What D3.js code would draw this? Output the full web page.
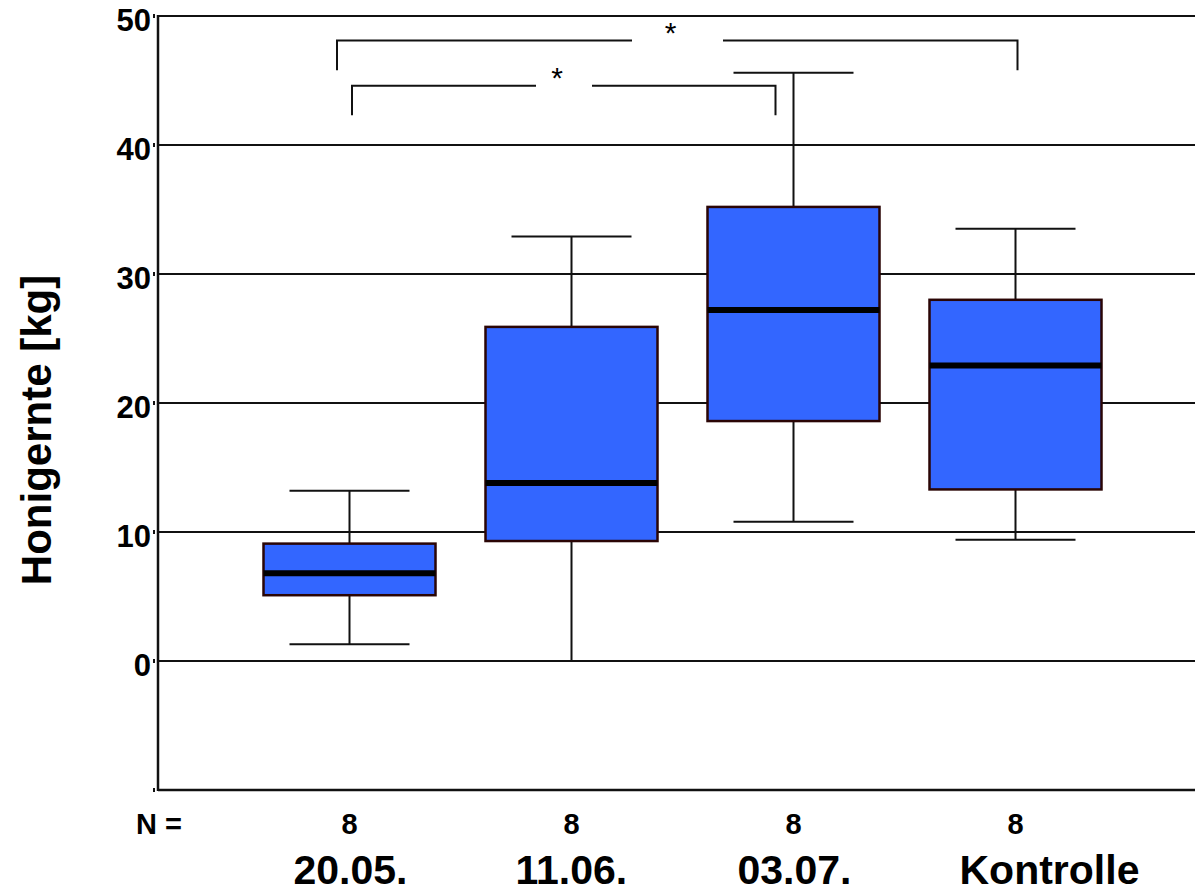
<!DOCTYPE html>
<html>
<head>
<meta charset="utf-8">
<script src="https://cdn.jsdelivr.net/npm/d3@7"></script>
<style>
  body { margin: 0; background: #fff; }
  text { font-family: Arial, "Liberation Sans", sans-serif; }
</style>
</head>
<body>
<div id="chart"></div>
<script>
// data
var categories = ["20.05.", "11.06.", "03.07.", "Kontrolle"];
var nValues = [8, 8, 8, 8];
var whiskerLow = [1.3, 0.0, 10.8, 9.4];
var q1 = [5.1, 9.3, 18.6, 13.3];
var medians = [6.8, 13.8, 27.2, 22.9];
var q3 = [9.1, 25.9, 35.2, 28.0];
var whiskerHigh = [13.2, 32.9, 45.6, 33.5];
var yTicks = [0, 10, 20, 30, 40, 50];

// significance brackets (from, to, top level, end level)
var brackets = [
    { from: "20.05.", to: "Kontrolle", level: 48.1, end: 45.8, label: "*" },
    { from: "20.05.", to: "03.07.", level: 44.6, end: 42.3, label: "*" }
];

function init(){
    var w = 1195;
    var h = 894;
    var left = 158, top = 16, bottom = 790;

    var svg = d3.select("#chart")
        .append("svg")
        .attr("width", w)
        .attr("height", h);

    var xScale = d3.scalePoint()
        .domain(categories)
        .range([349.5, 1015.5]);

    var yScale = d3.scaleLinear()
        .domain([-10, 50])
        .range([bottom, top]);

    var boxW = 172, capW = 120;

    // grid lines
    svg.selectAll(".grid")
        .data(yTicks)
        .enter().append("line")
        .attr("x1", left)
        .attr("x2", w)
        .attr("y1", function(d) { return yScale(d); })
        .attr("y2", function(d) { return yScale(d); })
        .attr("stroke", "#111")
        .attr("stroke-width", 2);

    // bottom axis line
    svg.append("line")
        .attr("x1", left).attr("x2", w)
        .attr("y1", bottom).attr("y2", bottom)
        .attr("stroke", "#111").attr("stroke-width", 2.5);

    // left axis line
    svg.append("line")
        .attr("x1", left).attr("x2", left)
        .attr("y1", top - 1).attr("y2", bottom + 1)
        .attr("stroke", "#111").attr("stroke-width", 2.5);

    // little tick marks
    svg.selectAll(".tick")
        .data(yTicks.concat([-10]))
        .enter().append("rect")
        .attr("x", left - 5)
        .attr("y", function(d) { return yScale(d) - 2; })
        .attr("width", 2)
        .attr("height", 4)
        .attr("fill", "#111");

    // y tick labels (sit a bit below their grid line in the original)
    svg.selectAll(".ylab")
        .data(yTicks)
        .enter().append("text")
        .attr("x", left - 7)
        .attr("y", function(d) { return yScale(d) + 15; })
        .attr("text-anchor", "end")
        .attr("font-size", "31px")
        .attr("font-weight", "bold")
        .text(function(d) { return d; });

    // y axis title
    svg.append("text")
        .attr("transform", "translate(51,430) rotate(-90)")
        .attr("text-anchor", "middle")
        .attr("font-size", "42px")
        .attr("font-weight", "bold")
        .text("Honigernte [kg]");

    // boxes
    var boxes = categories.map(function(c, i) {
        return { cat: c, lo: whiskerLow[i], q1: q1[i], med: medians[i], q3: q3[i], hi: whiskerHigh[i] };
    });

    var g = svg.selectAll(".box")
        .data(boxes)
        .enter().append("g");

    // whisker stems
    g.append("line")
        .attr("x1", function(d) { return xScale(d.cat); })
        .attr("x2", function(d) { return xScale(d.cat); })
        .attr("y1", function(d) { return yScale(d.hi); })
        .attr("y2", function(d) { return yScale(d.lo); })
        .attr("stroke", "#111").attr("stroke-width", 2);

    // caps
    ["hi", "lo"].forEach(function(k) {
        g.append("line")
            .attr("x1", function(d) { return xScale(d.cat) - capW / 2; })
            .attr("x2", function(d) { return xScale(d.cat) + capW / 2; })
            .attr("y1", function(d) { return yScale(d[k]); })
            .attr("y2", function(d) { return yScale(d[k]); })
            .attr("stroke", "#111").attr("stroke-width", 2);
    });

    g.append("rect")
        .attr("x", function(d) { return xScale(d.cat) - boxW / 2; })
        .attr("y", function(d) { return yScale(d.q3); })
        .attr("width", boxW)
        .attr("height", function(d) { return yScale(d.q1) - yScale(d.q3); })
        .attr("fill", "#3366ff")
        .attr("stroke", "#2a0505")
        .attr("stroke-width", 2.5);

    g.append("line")
        .attr("x1", function(d) { return xScale(d.cat) - boxW / 2; })
        .attr("x2", function(d) { return xScale(d.cat) + boxW / 2; })
        .attr("y1", function(d) { return yScale(d.med); })
        .attr("y2", function(d) { return yScale(d.med); })
        .attr("stroke", "#000").attr("stroke-width", 6);

    // significance brackets
    var bOffsets = [[-12.5, 2], [2.5, -18]];
    var gaps = [[632, 723], [536, 592]];
    brackets.forEach(function(b, i) {
        var x1 = xScale(b.from) + bOffsets[i][0];
        var x2 = xScale(b.to) + bOffsets[i][1];
        var yTop = yScale(b.level), yEnd = yScale(b.end);
        var bg = svg.append("g")
            .attr("fill", "none")
            .attr("stroke", "#111")
            .attr("stroke-width", 2);
        bg.append("path").attr("d", "M" + x1 + "," + yEnd + "V" + yTop + "H" + gaps[i][0]);
        bg.append("path").attr("d", "M" + gaps[i][1] + "," + yTop + "H" + x2 + "V" + yEnd);
        svg.append("text")
            .attr("x", (gaps[i][0] + gaps[i][1]) / 2 - 7)
            .attr("y", yTop + 2)
            .attr("text-anchor", "middle")
            .attr("font-size", "30px")
            .text(b.label);
    });

    // N row
    svg.append("text")
        .attr("x", 136)
        .attr("y", 834)
        .attr("font-size", "29px")
        .attr("font-weight", "bold")
        .text("N =");

    svg.selectAll(".nlab")
        .data(categories)
        .enter().append("text")
        .attr("x", function(d) { return xScale(d); })
        .attr("y", 834)
        .attr("text-anchor", "middle")
        .attr("font-size", "29px")
        .attr("font-weight", "bold")
        .text(function(d, i) { return nValues[i]; });

    // category labels (left aligned under each group, as in the original)
    svg.selectAll(".xlab")
        .data(categories)
        .enter().append("text")
        .attr("x", function(d) { return xScale(d) - 56; })
        .attr("y", 884)
        .attr("text-anchor", "start")
        .attr("font-size", "41px")
        .attr("font-weight", "bold")
        .text(function(d) { return d; });
}
window.onload = init;
</script>
</body>
</html>
